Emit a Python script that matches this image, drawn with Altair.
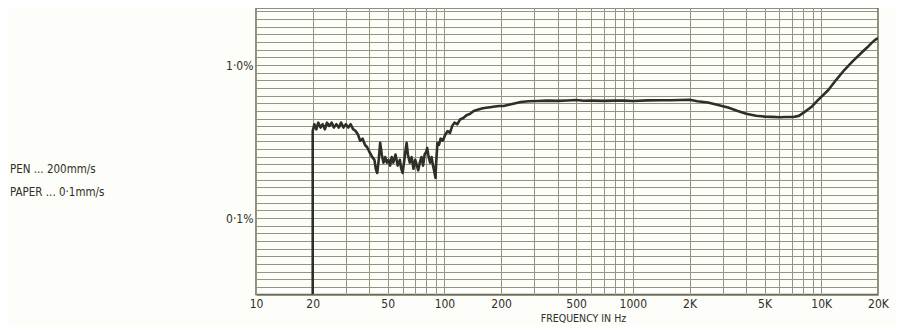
import altair as alt
import pandas as pd

# ---- measured trace (frequency in Hz, distortion in %) ----
freq = [20, 20, 20.4, 20.9, 21.4, 22.0, 22.6, 23.2, 23.8, 24.5, 25.2, 25.9, 26.7, 27.5,
        28.3, 29.1, 30.0, 30.9, 31.8, 32.8, 33.8, 34.8, 35.7, 36.8, 37.9, 38.9, 40.0,
        41.4, 42.5, 43.2, 44.0, 44.8, 45.6, 46.5, 47.5, 48.5, 49.5, 50.5, 51.5, 52.5,
        53.5, 55, 56.5, 58, 59, 60, 61, 62, 63, 64, 65.5, 67, 68.5, 70, 71.5, 72.6, 74,
        75.5, 77, 78.5, 80, 81, 82.5, 84, 85.5, 87, 88.5, 89.6, 90.6, 91.8, 93.5, 95.5,
        98, 101, 104, 107, 110, 113, 117, 121, 126, 131, 137, 143, 150, 158, 166, 175,
        185, 195, 206, 220, 235, 254, 280, 312, 350, 400, 450, 500, 550, 600, 700, 800,
        900, 1000, 1200, 1400, 1600, 1800, 2000, 2200, 2500, 2800, 3200, 3600, 4000,
        4500, 5000, 5500, 6000, 6500, 7100, 7600, 8100, 8850, 9600, 10900, 12000, 13250,
        14700, 16300, 17500, 18450, 19300, 20000]
thd = [0.0316, 0.37, 0.41, 0.38, 0.42, 0.39, 0.41, 0.38, 0.42, 0.40, 0.42, 0.39, 0.41, 0.39,
       0.42, 0.39, 0.41, 0.39, 0.41, 0.38, 0.37, 0.35, 0.32, 0.33, 0.30, 0.29, 0.27,
       0.25, 0.24, 0.21, 0.197, 0.24, 0.31, 0.26, 0.23, 0.25, 0.23, 0.24, 0.22, 0.25,
       0.23, 0.26, 0.22, 0.24, 0.21, 0.197, 0.23, 0.27, 0.31, 0.26, 0.23, 0.25, 0.21, 0.24,
       0.22, 0.205, 0.23, 0.25, 0.22, 0.26, 0.27, 0.287, 0.25, 0.23, 0.25, 0.22, 0.20,
       0.183, 0.24, 0.31, 0.30, 0.33, 0.32, 0.35, 0.37, 0.36, 0.40, 0.42, 0.41, 0.44,
       0.45, 0.47, 0.48, 0.50, 0.51, 0.52, 0.525, 0.53, 0.535, 0.54, 0.54, 0.55, 0.56,
       0.573, 0.58, 0.582, 0.585, 0.583, 0.586, 0.59, 0.584, 0.585, 0.583, 0.585, 0.585,
       0.582, 0.587, 0.588, 0.588, 0.59, 0.592, 0.58, 0.568, 0.55, 0.527, 0.50, 0.48,
       0.466, 0.46, 0.458, 0.456, 0.457, 0.457, 0.465, 0.49, 0.531, 0.59, 0.687, 0.80,
       0.927, 1.06, 1.197, 1.30, 1.39, 1.46, 1.50]

# ---- axes ----
x_label_values = [10, 20, 50, 100, 200, 500, 1000, 2000, 5000, 10000, 20000]
x_label_texts = ["10", "20", "50", "100", "200", "500", "1000", "2K", "5K", "10K", "20K"]
x_grid = [10, 20, 30, 40, 50, 60, 70, 80, 90,
          100, 200, 300, 400, 500, 600, 700, 800, 900,
          1000, 2000, 3000, 4000, 5000, 6000, 7000, 8000, 9000,
          10000, 20000]
y_label_values = [1.0, 0.1]
y_label_texts = ["1·0%", "0·1%"]
y_grid_db = list(range(-30, 8))          # 1 dB chart-paper rulings relative to 1 %
y_grid = [10 ** (d / 20) for d in y_grid_db]
notes = ["PEN ... 200mm/s", "PAPER ... 0·1mm/s"]

FONT = "DejaVu Sans Condensed"
INK = "#2f2f28"
GRID = "#95957f"

df = pd.DataFrame({"f": freq, "v": thd, "i": range(len(freq))})


def label_expr(values, texts):
    expr = "''"
    for v, t in reversed(list(zip(values, texts))):
        expr = f"abs(datum.value - {v}) < {v * 1e-6} ? '{t}' : ({expr})"
    return expr


x_scale = alt.Scale(type="log", domain=[10, 20000], nice=False)
y_scale = alt.Scale(type="log", domain=[10 ** -1.5, 10 ** (57 / 153)], nice=False)

line = alt.Chart(df).mark_line(
    color=INK, strokeWidth=2.6, clip=True, strokeJoin="round"
).encode(
    x=alt.X("f:Q", scale=x_scale,
            axis=alt.Axis(values=x_grid, grid=True, gridColor=GRID, gridWidth=1,
                          ticks=False, domain=False, labelExpr=label_expr(x_label_values, x_label_texts),
                          labelOverlap=False, labelFlush=False, labelFont=FONT, labelFontSize=12,
                          labelColor=INK, labelPadding=4, labelBaseline="top",
                          title="FREQUENCY IN Hz", titleFont=FONT, titleFontSize=10.5,
                          titleFontWeight="normal", titleColor=INK, titleX=327, titleY=24,
                          titleBaseline="middle", titleAlign="center")),
    y=alt.Y("v:Q", scale=y_scale,
            axis=alt.Axis(values=y_grid, grid=True, gridColor=GRID, gridWidth=1,
                          ticks=False, domain=False, labelExpr=label_expr(y_label_values, y_label_texts),
                          labelOverlap=False, labelFont=FONT, labelFontSize=12, labelColor=INK,
                          labelPadding=3, title=None)),
    order="i:Q",
)

text_layers = []
for k, note in enumerate(notes):
    text_layers.append(
        alt.Chart(pd.DataFrame({"t": [note]})).mark_text(
            align="left", baseline="middle", font=FONT, fontSize=11.5, color=INK,
            x=-246, y=162 + 23 * k,
        ).encode(text="t:N")
    )

chart = alt.layer(line, *text_layers).properties(
    width=622, height=286.5,
    autosize=alt.AutoSizeParams(type="none"),
    padding={"left": 248, "top": 0, "right": 18, "bottom": 31},
    background="#fdfdf9",
).configure_view(
    stroke="#6a6a5c", strokeWidth=1.5, fill="#fbfbf3"
)

chart.save("out.html", embed_options={"renderer": "svg", "actions": False})
